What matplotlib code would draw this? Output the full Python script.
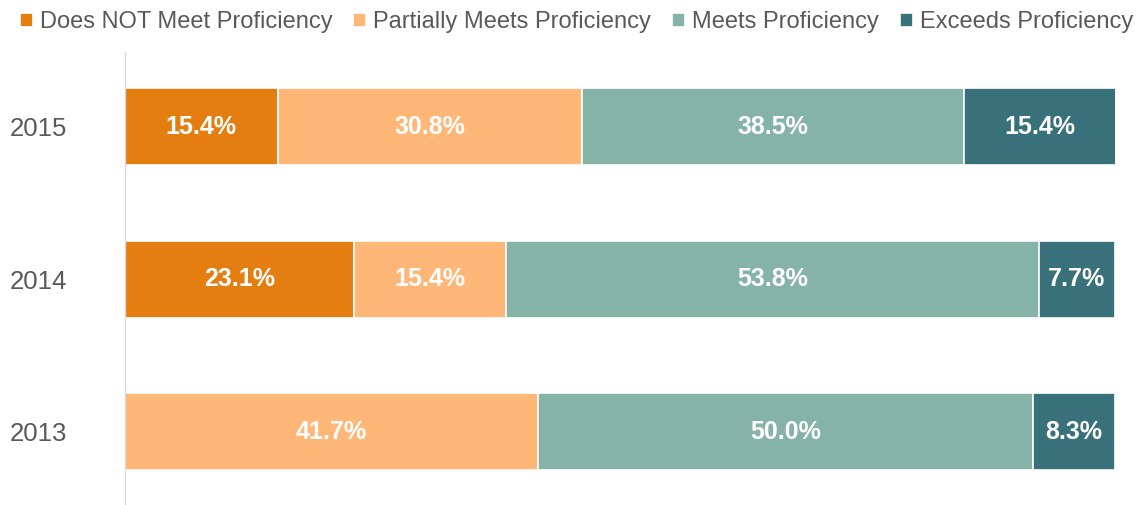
import matplotlib
matplotlib.use("Agg")
import matplotlib.pyplot as plt
import numpy as np

plt.rcParams['font.family'] = ['Liberation Sans', 'DejaVu Sans']

years = ["2013", "2014", "2015"]
series_names = ["Does NOT Meet Proficiency", "Partially Meets Proficiency",
                "Meets Proficiency", "Exceeds Proficiency"]
does_not = [0.0, 23.1, 15.4]
partial = [41.7, 15.4, 30.8]
meets = [50.0, 53.8, 38.5]
exceeds = [8.3, 7.7, 15.4]
colors = ["#E47E11", "#FFB777", "#86B3A7", "#38717A"]

fig = plt.figure(figsize=(11.37, 5.05), dpi=100)
ax = fig.add_axes([0.110, 0.0, 0.8707, 0.897])

data = [does_not, partial, meets, exceeds]
y = np.arange(len(years))
left = np.zeros(len(years))
for name, vals, c in zip(series_names, data, colors):
    vals = np.array(vals)
    ax.barh(y, vals, left=left, height=0.505, color=c,
            edgecolor="white", linewidth=1.2, label=name)
    for yi, (l, v) in enumerate(zip(left, vals)):
        if v > 0:
            ax.text(l + v / 2, yi, f"{v:.1f}%", ha="center", va="center",
                    color="white", fontsize=18, fontweight="bold")
    left = left + vals

ax.set_xlim(0, 100)
ax.set_ylim(-0.48, 2.49)
ax.set_yticks(y)
ax.set_yticklabels(years, fontsize=18.5, color="#595959")
ax.tick_params(axis="y", length=0, pad=83)
ax.tick_params(axis="x", bottom=False, labelbottom=False)
for s in ["top", "right", "bottom"]:
    ax.spines[s].set_visible(False)
ax.spines["left"].set_color("#D9D9D9")
ax.spines["left"].set_linewidth(1.0)
for lab in ax.get_yticklabels():
    lab.set_horizontalalignment("left")

fig.legend(loc="upper center", bbox_to_anchor=(0.507, 1.02), ncol=4,
           frameon=False, fontsize=17, handlelength=0.55, handleheight=0.55,
           handletextpad=0.3, columnspacing=0.88, labelcolor="#595959")

fig.savefig("out.png", dpi=100)
